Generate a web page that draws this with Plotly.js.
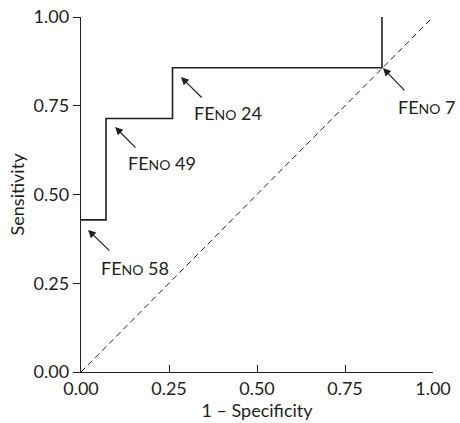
<!DOCTYPE html>
<html>
<head>
<meta charset="utf-8">
<script src="https://cdn.plot.ly/plotly-3.0.1.min.js"></script>
<style>html,body{margin:0;padding:0;background:#fff;}#chart{width:460px;height:423px;}</style>
</head>
<body>
<div id="chart"></div>
<script>
// ROC curve points (1 - specificity, sensitivity)
const rocX = [0, 0.071, 0.071, 0.26, 0.26, 0.855, 0.855];
const rocY = [0.4286, 0.4286, 0.714, 0.714, 0.857, 0.857, 1.0];
// Reference diagonal
const diagX = [0, 1];
const diagY = [0, 1];
// Cut-off labels
const cutLabels = ["58", "49", "24", "7"];
const tickVals = [0, 0.25, 0.5, 0.75, 1];
const tickText = ["0.00", "0.25", "0.50", "0.75", "1.00"];

const FONT = "Lato, 'Open Sans', sans-serif";
const INK = "#231f20";

// annotation geometry: head (x,y), tail (ax,ay), text anchor (tx,ty)
const arrowGeom = [
  {x: 0.020, y: 0.400, ax: 0.085, ay: 0.338, tx: 0.051, ty: 0.293},
  {x: 0.097, y: 0.690, ax: 0.159, ay: 0.628, tx: 0.128, ty: 0.589},
  {x: 0.284, y: 0.831, ax: 0.347, ay: 0.769, tx: 0.315, ty: 0.730},
  {x: 0.858, y: 0.856, ax: 0.923, ay: 0.789, tx: 0.895, ty: 0.746}
];

const annotations = [];
cutLabels.forEach((lab, i) => {
  const g = arrowGeom[i];
  annotations.push({
    x: g.x, y: g.y, xref: 'x', yref: 'y',
    ax: g.ax, ay: g.ay, axref: 'x', ayref: 'y',
    text: '', showarrow: true, arrowhead: 2, arrowsize: 1.3, arrowwidth: 1.2,
    arrowcolor: INK, standoff: 0, startstandoff: 0
  });
  annotations.push({
    x: g.tx, y: g.ty, xref: 'x', yref: 'y',
    xanchor: 'left', yanchor: 'middle', showarrow: false,
    text: 'FE<span style="font-size:14px">NO</span> ' + lab,
    font: {family: FONT, size: 18, color: INK}
  });
});

const traces = [
  {x: diagX, y: diagY, mode: 'lines', line: {color: INK, width: 1, dash: '6px,4px'}, cliponaxis: false, hoverinfo: 'skip'},
  {x: rocX, y: rocY, mode: 'lines', line: {color: INK, width: 1.6}, cliponaxis: false, hoverinfo: 'skip'}
];

const layout = {
  width: 460, height: 423,
  margin: {l: 81, r: 27, t: 17, b: 51},
  paper_bgcolor: '#fff', plot_bgcolor: '#fff',
  showlegend: false,
  font: {family: FONT, size: 18, color: INK},
  xaxis: {
    range: [0, 1], tickvals: tickVals, ticktext: tickText,
    showgrid: false, zeroline: false, showline: true, linecolor: INK, linewidth: 1.2,
    ticks: 'inside', ticklen: 7, tickcolor: INK, tickwidth: 1,
    tickfont: {family: FONT, size: 18, color: INK},
    title: {text: '1 – Specificity', font: {family: FONT, size: 18, color: INK}, standoff: 2}
  },
  yaxis: {
    range: [0, 1], tickvals: tickVals, ticktext: tickText,
    showgrid: false, zeroline: false, showline: true, linecolor: INK, linewidth: 1.2,
    ticks: 'outside', ticklen: 7, tickcolor: INK, tickwidth: 1,
    tickfont: {family: FONT, size: 18, color: INK},
    title: {text: 'Sensitivity', font: {family: FONT, size: 18, color: INK}, standoff: 4}
  },
  annotations: annotations
};

Plotly.newPlot('chart', traces, layout, {staticPlot: true, displayModeBar: false});
</script>
</body>
</html>
